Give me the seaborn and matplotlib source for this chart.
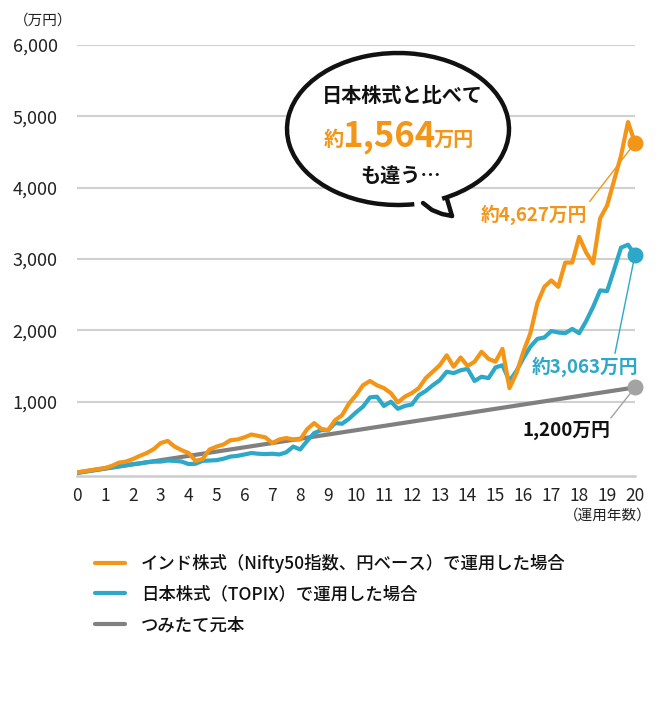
import matplotlib.pyplot as plt
import numpy as np
import pandas as pd
import seaborn as sns
from matplotlib.patches import Ellipse, Arc
from matplotlib.lines import Line2D

india = [10, 25, 40, 55, 70, 100, 145, 160, 195, 240, 280, 335,
         420, 450, 370, 320, 280, 170, 195, 330,
         370, 400, 460, 470, 500, 540, 520, 500,
         420, 470, 490, 470, 470, 615, 700, 620,
         600, 740, 810, 975, 1090, 1230, 1290, 1230,
         1190, 1120, 990, 1070, 1120, 1190, 1330, 1420,
         1510, 1650, 1490, 1620, 1500, 1560, 1700, 1600,
         1560, 1740, 1190, 1400, 1700, 1960, 2380, 2610,
         2700, 2610, 2950, 2950, 3310, 3090, 2940, 3570,
         3750, 4100, 4450, 4920, 4627]
japan = [5, 20, 35, 50, 65, 80, 95, 110, 125, 135, 150, 160,
         160, 175, 170, 160, 125, 130, 170, 175,
         180, 200, 230, 240, 260, 280, 270, 265,
         270, 260, 290, 370, 330, 450, 560, 600,
         600, 700, 690, 760, 850, 930, 1060, 1070,
         940, 1000, 900, 940, 960, 1090, 1150, 1230,
         1300, 1420, 1400, 1440, 1460, 1290, 1350, 1330,
         1480, 1510, 1290, 1430, 1610, 1770, 1880, 1900,
         1990, 1970, 1960, 2020, 1960, 2130, 2330, 2560,
         2550, 2850, 3160, 3200, 3063]
principal_years = [0, 20]
principal = [0, 1200]

labels = ["インド株式（Nifty50指数、円ベース）で運用した場合",
          "日本株式（TOPIX）で運用した場合",
          "つみたて元本"]
y_ticks = [1000, 2000, 3000, 4000, 5000, 6000]
x_ticks = list(range(21))

ORANGE = "#F39517"
TEAL = "#2DA8C8"
GRAY = "#999999"

years = np.linspace(0, 20, len(india))
df = pd.DataFrame({"year": years, "india": india, "japan": japan})
df_p = pd.DataFrame({"year": principal_years, "principal": principal})

sns.set_theme(style="white")
plt.rcParams["font.family"] = ["Noto Sans CJK JP", "DejaVu Sans"]

W, H = 662, 705
fig = plt.figure(figsize=(W / 100, H / 100), dpi=100)
ax = fig.add_axes([77 / W, 1 - 476 / H, (635 - 77) / W, (476 - 45) / H])


def P(px, py):
    return px / W, 1 - py / H


sns.lineplot(data=df_p, x="year", y="principal", color=GRAY, lw=2.4, ax=ax,
             label=labels[2], zorder=3)
sns.lineplot(data=df, x="year", y="japan", color=TEAL, lw=2.3, ax=ax,
             label=labels[1], zorder=4)
sns.lineplot(data=df, x="year", y="india", color=ORANGE, lw=2.3, ax=ax,
             label=labels[0], zorder=5)

# end-point dots
for val, c in [(india[-1], ORANGE), (japan[-1], TEAL), (principal[-1], "#a3a3a3")]:
    ax.plot([20], [val], "o", ms=10.5, color=c, clip_on=False, zorder=6)

ax.set_xlim(0, 20)
ax.set_ylim(-42, 6000)
ax.set_xticks(x_ticks)
ax.set_xticklabels([str(v) for v in x_ticks])
ax.set_yticks(y_ticks)
ax.set_yticklabels([f"{v:,}" for v in y_ticks])
ax.set_xlabel("")
ax.set_ylabel("")
ax.yaxis.grid(True, color="#d0d0d0", lw=1.5)
ax.xaxis.grid(False)
for s in ["left", "top", "right"]:
    ax.spines[s].set_visible(False)
ax.spines["bottom"].set_color("#cccccc")
ax.spines["bottom"].set_linewidth(1.8)
ax.tick_params(axis="x", direction="out", length=5, width=1.5, color="#cccccc",
               labelsize=12.5, labelcolor="#222222", pad=3)
ax.tick_params(axis="y", length=0, labelsize=13, labelcolor="#222222", pad=14)

fig.text(*P(14, 21), "（万円）", fontsize=10.5, color="#222222", ha="left", va="center")
fig.text(*P(652, 516), "（運用年数）", fontsize=10.5, color="#222222", ha="right", va="center")

# annotations with leader lines
ax.annotate("約4,627万円", xy=(20, india[-1]), xytext=(16.38, 3618),
            ha="center", va="center", fontsize=13.5, color=ORANGE, fontweight="bold",
            arrowprops=dict(arrowstyle="-", color=ORANGE, lw=1, shrinkA=0, shrinkB=0,
                            relpos=(1.0, 1.0)), zorder=7)
ax.annotate("約3,063万円", xy=(20, japan[-1]), xytext=(18.19, 1488),
            ha="center", va="center", fontsize=13.5, color=TEAL, fontweight="bold",
            arrowprops=dict(arrowstyle="-", color=TEAL, lw=1, shrinkA=0, shrinkB=0,
                            relpos=(0.78, 1.0)), zorder=7)
ax.annotate("1,200万円", xy=(20, principal[-1]), xytext=(17.53, 591),
            ha="center", va="center", fontsize=13.5, color="#111111", fontweight="bold",
            arrowprops=dict(arrowstyle="-", color="#a3a3a3", lw=1, shrinkA=0, shrinkB=0,
                            relpos=(0.98, 1.0)), zorder=7)

# speech bubble
cx, cy, bw, bh = 398, 129, 222, 152
fig.add_artist(Ellipse(P(cx, cy), bw / W, bh / H, transform=fig.transFigure,
                       facecolor="white", edgecolor="none", zorder=2))
fig.add_artist(Arc(P(cx, cy), bw / W, bh / H, theta1=-56, theta2=283,
                   transform=fig.transFigure, color="#111111", lw=3.2, zorder=3))
tx = [423, 432, 442, 452]
ty = [203, 210, 214, 216]
fig.add_artist(Line2D([p / W for p in tx], [1 - p / H for p in ty],
                      transform=fig.transFigure, color="#111111", lw=3.2,
                      solid_capstyle="round", zorder=3))
fig.add_artist(Line2D([447 / W, 452 / W], [1 - 199 / H, 1 - 216 / H],
                      transform=fig.transFigure, color="#111111", lw=3.2,
                      solid_capstyle="round", zorder=3))

fig.text(*P(402, 96), "日本株式と比べて", fontsize=14.5, fontweight="bold",
         color="#111111", ha="center", va="center", zorder=4)
fig.text(*P(344, 146), "約", fontsize=14.5, fontweight="bold", color=ORANGE,
         ha="right", va="baseline", zorder=4)
fig.text(*P(389, 146), "1,564", fontsize=25, fontweight="bold", color=ORANGE,
         ha="center", va="baseline", zorder=4)
fig.text(*P(434, 146), "万円", fontsize=14.5, fontweight="bold", color=ORANGE,
         ha="left", va="baseline", zorder=4)
fig.text(*P(401, 176), "も違う…", fontsize=14.5, fontweight="bold",
         color="#111111", ha="center", va="center", zorder=4)

# legend
h, l = ax.get_legend_handles_labels()
order = [labels.index(t) for t in labels]
handles = [h[l.index(t)] for t in labels]
for hd, c in zip(handles, [ORANGE, TEAL, "#808080"]):
    hd.set_color(c)
    hd.set_linewidth(3)
ax.legend(handles, labels, loc="upper left", bbox_to_anchor=P(95, 554),
          bbox_transform=fig.transFigure, frameon=False, fontsize=12.5,
          handlelength=1.75, handletextpad=0.9, labelspacing=0.72,
          borderpad=0, borderaxespad=0)
for t in ax.get_legend().get_texts():
    t.set_color("#111111")
    t.set_fontweight("medium")

fig.savefig("out.png", dpi=100)
